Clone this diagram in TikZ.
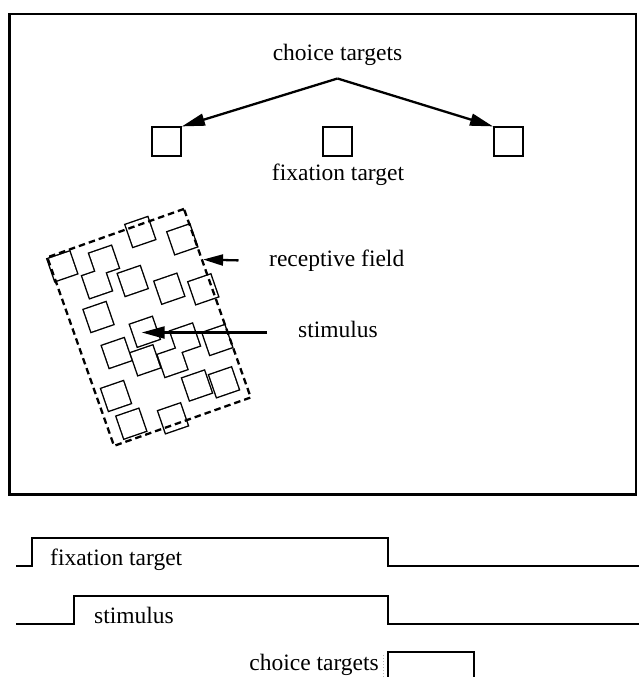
\documentclass[tikz,border=0pt]{standalone}
\usepackage{fontspec}
\setmainfont{Liberation Serif}
\usetikzlibrary{arrows.meta,calc}
\begin{document}
\begin{tikzpicture}[x=1pt,y=-1pt,
  lbl/.style={inner sep=0pt, font=\fontsize{23.5}{28}\selectfont},
  target/.style={draw, line width=1.6pt, minimum size=29pt, inner sep=0pt},
  sqback/.style={draw, line width=2.8pt, minimum size=23pt, inner sep=0pt, rotate=19},
  sqfront/.style={fill=white, minimum size=23pt, inner sep=0pt, rotate=19},
  pointer/.style={line width=2.3pt, -{Triangle[length=23pt,width=12pt]}},
  smallpointer/.style={line width=2.3pt, -{Triangle[length=20pt,width=11pt]}},
  rfbox/.style={draw, line width=2.3pt, dash pattern=on 6.5pt off 4pt, minimum width=145pt, minimum height=200pt, inner sep=0pt, rotate=19.5},
  frame/.style={line width=2.2pt},
  trace/.style={line width=2pt},
]
\useasboundingbox (0,0) rectangle (639,677);
\draw[frame] (9.5,14) rectangle (636,494.5);

% top: choice targets and fixation target
\node[lbl, anchor=base] (ctlabel) at (337.5,61) {choice targets};
\node[target] (ctL) at (166.6,141.7) {};
\node[target] (fix) at (337.5,141.7) {};
\node[target] (ctR) at (508.3,141.7) {};
\node[lbl, anchor=base] (fixlabel) at (338,180) {fixation target};
\coordinate (apex) at (337.5,78.5);
\draw[pointer] (apex) -- (ctL.north east);
\draw[pointer] (apex) -- (ctR.north west);

% stimulus squares (union outline)
\foreach \x/\y [count=\i] in {140.3/232.0, 182.3/239.3, 62.3/266.3, 104/260.7, 97/283.3,
  132.7/281, 169.3/288.7, 203.3/289.3, 98.5/317, 144.8/331.8, 116.7/353, 145.3/360.3,
  185/338.5, 217.3/340, 172.5/362, 116/396, 197/385.5, 224/382.3, 131.3/423.7, 173/418.3}
  \node[sqback] (sb\i) at (\x,\y) {};
\foreach \x/\y [count=\i] in {140.3/232.0, 182.3/239.3, 62.3/266.3, 104/260.7, 97/283.3,
  132.7/281, 169.3/288.7, 203.3/289.3, 98.5/317, 144.8/331.8, 116.7/353, 145.3/360.3,
  185/338.5, 217.3/340, 172.5/362, 116/396, 197/385.5, 224/382.3, 131.3/423.7, 173/418.3}
  \node[sqfront] (s\i) at (\x,\y) {};

% receptive field
\node[rfbox] (rf) at (149,327.4) {};
\node[lbl, anchor=base west] (rflabel) at (269,266) {receptive field};
\coordinate (rftail) at (238.5,260.4);
\draw[smallpointer] (rftail) -- ($(rf.north east)!0.273!(rf.south east)$);

% stimulus pointer
\node[lbl, anchor=base west] (stimlabel) at (298,337) {stimulus};
\coordinate (stimtail) at (267,332.5);
\coordinate (stimtip) at (141.7,332.5);
\draw[pointer] (stimtail) -- (stimtip);

% timeline
\draw[trace] (16.3,566) -- (31.5,566) -- (31.5,538.3) -- (388,538.3) -- (388,566) -- (639,566);
\node[lbl, anchor=base west] (tfix) at (50,565) {fixation target};
\draw[trace] (16.3,623.5) -- (74,623.5) -- (74,595.5) -- (388,595.5) -- (388,623.5) -- (639,623.5);
\node[lbl, anchor=base west] (tstim) at (94,623) {stimulus};
\draw[trace] (388,677) -- (388,652) -- (473.5,652) -- (473.5,677);
\node[lbl, anchor=base east] (tct) at (379,670) {choice targets};
\draw[gray!60, dotted, line width=1pt] (383,655) -- (383,677);
\end{tikzpicture}
\end{document}
